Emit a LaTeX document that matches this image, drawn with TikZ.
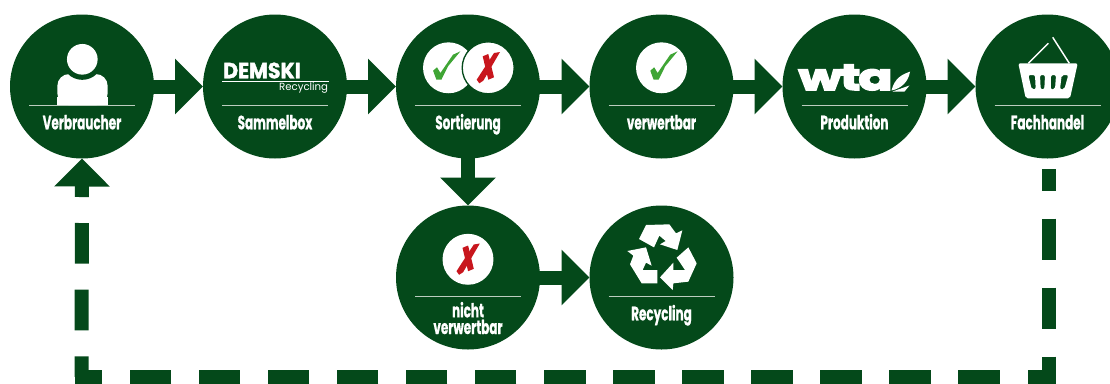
\documentclass[tikz,border=0pt]{standalone}
\usepackage{fontspec}
\usetikzlibrary{arrows.meta}
\newfontfamily\labelfont[FakeStretch=0.62,FakeBold=.7]{Poppins}
\newfontfamily\logofont[FakeStretch=0.93,FakeBold=1.6]{Poppins}
\newfontfamily\subfont[FakeStretch=0.98]{Poppins}
\newfontfamily\wtafont[FakeStretch=1.4,FakeBold=5,LetterSpace=-6]{Poppins}
\definecolor{wtagreen}{HTML}{04491A}
\definecolor{tickgreen}{HTML}{3FA535}
\definecolor{crossred}{HTML}{C8161D}
\definecolor{rulegray}{HTML}{BCCDBF}
\tikzset{
  station/.style={circle,fill=wtagreen,minimum size=108pt,inner sep=0pt,outer sep=0pt},
  stationtext/.style={text=white,align=center,inner sep=0pt,anchor=base,font=\labelfont\bfseries\fontsize{14.5}{12.5}\selectfont},
  flow/.style={draw=wtagreen,line width=10.5pt,shorten <=-1pt,-{Triangle[length=21pt,width=40.5pt]}},
  backflow/.style={draw=wtagreen,line width=10.5pt},
  tickmark/.pic={
    \fill[tickgreen] (-11.2,2.9)--(-7.3,-.5)--(-3.9,5.2)--(8.7,-13.1)--(16.1,-16.5)--(3.7,-1.5)--(-2.9,11.9)--(-7.9,11.9)--cycle;
  },
  crossmark/.pic={
    \fill[crossred] (-5.5,-11.5)--(.1,-13.8)--(5.8,9.5)--(.1,11.9)--cycle;
    \fill[crossred] (11.8,-15.8)--(5.8,-14.8)--(-11.5,11.9)--(-8.9,15.5)--(-4.9,12.9)--cycle;
  },
}
\begin{document}
\begin{tikzpicture}[x=.75pt,y=-.75pt]
\useasboundingbox (0,0) rectangle (1110,383);
\foreach \x/\y/\name/\txt in {82/86.5/verbraucher/Verbraucher,275/86.5/sammelbox/Sammelbox,
    468/86.5/sortierung/Sortierung,661.5/86.5/verwertbar/verwertbar,854.5/86.5/produktion/Produktion,
    1047.5/86.5/fachhandel/Fachhandel,661.5/277.5/recycling/Recycling}
  {
  \node[station] (\name) at (\x,\y) {};
  \node[stationtext] (\name text) at (\x,\y+42.8) {\txt};
  \draw[rulegray,line width=1pt] (\x-53,\y+19.2)--(\x+53,\y+19.2);
  }
\node[station] (nichtverwertbar) at (468,277.5) {};
\node[stationtext,anchor=center] (nichtverwertbar text) at (468,318) {nicht\\verwertbar};
\draw[rulegray,line width=1pt] (415,296.7)--(521,296.7);
% connectors
\draw[flow] (verbraucher)--(sammelbox);
\draw[flow] (sammelbox)--(sortierung);
\draw[flow] (sortierung)--(verwertbar);
\draw[flow] (verwertbar)--(produktion);
\draw[flow] (produktion)--(fachhandel);
\draw[flow] (sortierung)--(nichtverwertbar);
\draw[flow] (nichtverwertbar)--(recycling);
\coordinate (backstart) at (1048.7,169);
\coordinate (backright) at (1048.7,377);
\coordinate (backleft) at (81.5,377);
\coordinate (backend) at (74.5,377);
\draw[backflow,dash pattern={on 31.1pt off 20.7pt},dash phase=14.6pt]
  (backstart)--(backright)--(backend);
\draw[backflow,dash pattern={on 30.5pt off 19.5pt},dash phase=15pt,-{Triangle[length=21pt,width=40.5pt]}]
  (backleft)--(verbraucher.south);
% verbraucher
\begin{scope}[shift={(verbraucher)}]
  \fill[white,rounded corners=9pt] (-24.7,18.7)--(-24.7,-12.5)--(25.7,-12.5)--(25.7,18.7)--cycle;
  \fill[white] (-24.7,10)rectangle(25.7,18.7);
  \fill[wtagreen] (.3,-27.2) circle[radius=15.4pt];
  \fill[white] (.3,-27.2) circle[radius=11.5pt];
\end{scope}
% sammelbox
\begin{scope}[shift={(sammelbox)}]
  \node[text=white,inner sep=0pt,font=\logofont\bfseries\fontsize{16.5}{16.5}\selectfont] (demski) at (-13,-16) {DEMSKI};
  \draw[white,line width=.7pt] (-53,-5.2)--(53.5,-5.2);
  \node[text=white,inner sep=0pt,anchor=east,font=\subfont\fontsize{7.8}{8}\selectfont] (demskisub) at (53.4,1.2) {Recycling};
\end{scope}
% sortierung
\begin{scope}[shift={(sortierung)}]
  \fill[white] (-19.5,-18.7) circle[radius=19.1pt];
  \pic at (-23.7,-18.7) {tickmark};
  \fill[white,draw=wtagreen,line width=1pt] (20.2,-18.7) circle[radius=19.5pt];
  \pic at (20.2,-18.7) {crossmark};
\end{scope}
% verwertbar
\begin{scope}[shift={(verwertbar)}]
  \fill[white] (0,-18.7) circle[radius=19.1pt];
  \pic at (0,-18.7) {tickmark};
\end{scope}
% produktion
\begin{scope}[shift={(produktion)}]
  \node[text=white,inner sep=0pt,font=\wtafont\bfseries\fontsize{27}{27}\selectfont] (wta) at (-9,-9) {wta};
  \fill[white] (37,4) .. controls (40,-8) and (47,-12) .. (55.5,-14.8) .. controls (54,-5) and (47,2) .. (37,4)--cycle;
  \fill[white] (38,5)--(55,-1)--(50,5)--cycle;
\end{scope}
% fachhandel
\begin{scope}[shift={(fachhandel)}]
  \fill[white,rounded corners=1.5pt,even odd rule] (-29.2,-23.2)--(30.2,-23.2)--(22.5,11.8)--(-21.8,11.8)--cycle
    (-19.2,-11.5)--(-12.5,-11.5)--(-11.8,2.8)--(-15.8,2.8)--cycle
    (-7.5,-11.5)--(-2.5,-11.5)--(-3.2,2.8)--(-6.8,2.8)--cycle
    (3.5,-11.5)--(8.5,-11.5)--(7.5,2.8)--(3.2,2.8)--cycle
    (14.2,-11.5)--(20.8,-11.5)--(16.8,2.8)--(12.5,2.8)--cycle;
  \draw[white,line width=1.1pt] (-19.2,-23.2)--(.8,-43.2);
  \draw[white,line width=1.1pt] (5.2,-49.2)--(21.8,-23.2);
\end{scope}
% nicht verwertbar
\begin{scope}[shift={(nichtverwertbar)}]
  \fill[white] (0,-18.2) circle[radius=19.1pt];
  \pic at (0,-18.2) {crossmark};
\end{scope}
% recycling
\begin{scope}[shift={(recycling)},x=.25pt,y=-.25pt,shift={(-41.5*3,-62.5*3)}]
  \fill[white] (57,72)--(78,30)--(148,28)--(168,55)--(187,46)--(172,105)--(120,88)--(137,78)--(118,62)--(102,97)--cycle;
  \fill[white] (22,108)--(78,97)--(95,152)--(78,143)--(68,165)--(112,165)--(112,205)--(65,205)--(30,148)--(40,122)--cycle;
  \fill[white] (205,97)--(230,145)--(205,200)--(160,205)--(158,225)--(120,187)--(160,143)--(160,165)--(195,165)--(170,128)--cycle;
\end{scope}
\end{tikzpicture}
\end{document}
